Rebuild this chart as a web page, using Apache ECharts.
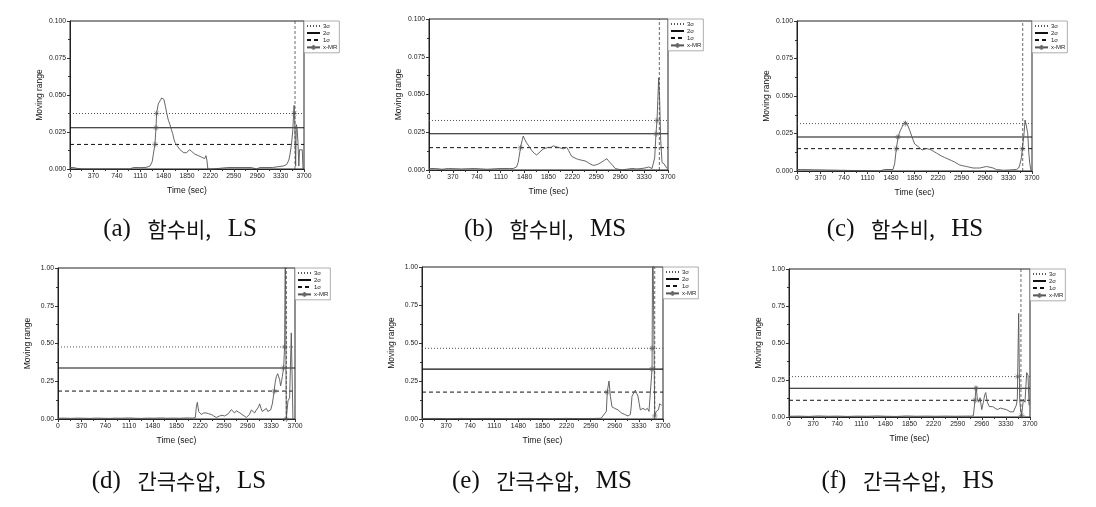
<!DOCTYPE html>
<html>
<head>
<meta charset="utf-8">
<script src="https://cdn.jsdelivr.net/npm/echarts@6/dist/echarts.min.js"></script>
<style>
html,body{margin:0;padding:0;background:#fff;}
#chart{width:1096px;height:507px;}
</style>
</head>
<body>
<div id="chart"></div>
<script>
// ---------------- DATA ----------------
const captionTags = ['(a)','(b)','(c)','(d)','(e)','(f)'];
const captionVars = ['함수비,','함수비,','함수비,','간극수압,','간극수압,','간극수압,'];
const captionCases = ['LS','MS','HS','LS','MS','HS'];
const seriesNames = ['3σ','2σ','1σ','x-MR'];
const xTickStep = 370;
const xMax = 3700;
const yMaxes = [0.1,0.1,0.1,1,1,1];
const yTickSteps = [0.025,0.025,0.025,0.25,0.25,0.25];
const yDecimals = [3,3,3,2,2,2];

const sigma3 = [0.0375,0.0328,0.0316,0.477,0.465,0.273];
const sigma2 = [0.0279,0.0240,0.0227,0.338,0.328,0.194];
const sigma1 = [0.0166,0.0148,0.0149,0.185,0.177,0.113];
const eventTimes = [3558,3566,3554,3565,3573,3561];

const xmrA = [[0,0.001],[60,0.001],[100,0.0005],[200,0],[400,0],[700,0],[950,0],[1000,0.001],[1100,0.001],[1200,0.001],[1265,0.002],[1300,0.005],[1318,0.010],[1344,0.017],[1360,0.028],[1370,0.038],[1396,0.044],[1423,0.046],[1450,0.048],[1465,0.049],[1486,0.047],[1510,0.042],[1528,0.038],[1555,0.033],[1581,0.030],[1600,0.027],[1623,0.024],[1645,0.020],[1660,0.018],[1690,0.016],[1713,0.015],[1740,0.013],[1765,0.012],[1800,0.011],[1845,0.011],[1870,0.012],[1887,0.013],[1920,0.012],[1950,0.011],[1975,0.010],[2003,0.010],[2030,0.009],[2056,0.009],[2080,0.008],[2108,0.008],[2130,0.007],[2150,0.009],[2165,0.006],[2180,0],[2250,0],[2500,0.001],[2870,0.001],[2950,0],[3000,0.001],[3200,0.001],[3370,0.002],[3426,0.003],[3460,0.006],[3479,0.010],[3500,0.016],[3521,0.025],[3535,0.036],[3543,0.043],[3552,0.036],[3560,0.020],[3568,0.002],[3578,0.030],[3590,0.028],[3605,0.018],[3618,0.002],[3630,0.013],[3673,0.013],[3684,0]];
const xmrB = [[0,0.001],[100,0.001],[200,0.0005],[300,0.001],[500,0.0007],[700,0.001],[900,0.0005],[1100,0.001],[1250,0.001],[1304,0.001],[1356,0.002],[1380,0.005],[1392,0.008],[1418,0.015],[1444,0.020],[1459,0.0225],[1485,0.020],[1510,0.018],[1527,0.017],[1560,0.015],[1589,0.013],[1630,0.011],[1667,0.010],[1690,0.011],[1718,0.012],[1745,0.013],[1770,0.014],[1810,0.0145],[1848,0.015],[1890,0.015],[1925,0.016],[1960,0.0155],[2003,0.015],[2040,0.0145],[2080,0.014],[2110,0.0145],[2132,0.015],[2160,0.013],[2184,0.011],[2210,0.009],[2236,0.008],[2280,0.0075],[2313,0.007],[2360,0.0065],[2417,0.006],[2460,0.005],[2494,0.004],[2546,0.003],[2590,0.0035],[2624,0.004],[2665,0.005],[2701,0.006],[2730,0.007],[2753,0.0075],[2780,0.006],[2805,0.005],[2845,0.003],[2883,0.001],[2986,0],[3060,0.0005],[3142,0.001],[3220,0.0007],[3297,0.001],[3360,0.0015],[3401,0.002],[3430,0.001],[3453,0.001],[3494,0.008],[3515,0.025],[3530,0.033],[3556,0.061],[3572,0.045],[3587,0.020],[3608,0.005],[3640,0.004],[3660,0.003],[3685,0.001]];
const xmrC = [[0,0.001],[50,0.001],[80,0],[1300,0],[1380,0.001],[1480,0.001],[1512,0.001],[1538,0.005],[1564,0.015],[1590,0.022],[1610,0.025],[1627,0.027],[1650,0.029],[1669,0.031],[1690,0.032],[1706,0.033],[1725,0.032],[1748,0.030],[1775,0.027],[1800,0.024],[1825,0.021],[1853,0.018],[1880,0.017],[1916,0.016],[1940,0.015],[1969,0.014],[2000,0.0145],[2037,0.015],[2080,0.0145],[2116,0.014],[2155,0.013],[2195,0.012],[2235,0.011],[2273,0.010],[2325,0.009],[2378,0.008],[2430,0.007],[2483,0.006],[2520,0.005],[2562,0.004],[2610,0.0035],[2667,0.003],[2720,0.0025],[2772,0.002],[2825,0.002],[2877,0.002],[2930,0.0025],[2982,0.003],[3040,0.0025],[3087,0.002],[3139,0.001],[3250,0.0005],[3350,0.0007],[3454,0.001],[3490,0.002],[3507,0.004],[3530,0.008],[3549,0.015],[3575,0.025],[3591,0.034],[3612,0.030],[3633,0.025],[3650,0.012],[3665,0.005],[3685,0]];
const xmrD = [[0,0.005],[100,0.006],[200,0.004],[300,0.006],[400,0.005],[500,0.004],[600,0.006],[700,0.005],[800,0.004],[900,0.006],[1000,0.005],[1100,0.007],[1200,0.005],[1300,0.004],[1400,0.006],[1500,0.005],[1600,0.007],[1700,0.005],[1800,0.006],[1900,0.005],[2000,0.007],[2100,0.006],[2144,0.01],[2160,0.08],[2175,0.11],[2196,0.05],[2237,0.03],[2275,0.04],[2315,0.04],[2350,0.035],[2393,0.03],[2430,0.02],[2471,0.01],[2500,0.015],[2523,0.02],[2560,0.025],[2600,0.02],[2627,0.03],[2660,0.035],[2705,0.062],[2730,0.05],[2758,0.04],[2785,0.055],[2810,0.05],[2840,0.04],[2862,0.03],[2890,0.025],[2914,0.02],[2940,0.01],[2966,0],[2990,0.03],[3018,0.06],[3045,0.05],[3070,0.04],[3090,0.055],[3106,0.06],[3130,0.08],[3148,0.10],[3170,0.07],[3190,0.05],[3220,0.06],[3252,0.07],[3275,0.05],[3294,0.04],[3320,0.06],[3346,0.10],[3360,0.14],[3372,0.18],[3390,0.24],[3408,0.28],[3430,0.30],[3445,0.31],[3460,0.26],[3476,0.22],[3490,0.25],[3502,0.28],[3523,0.34],[3538,0.48],[3549,1.25],[3556,0.6],[3564,0],[3590,0.12],[3616,0.14],[3630,0.14],[3642,0.57],[3657,0.57],[3668,0]];
const xmrE = [[0,0.003],[200,0.004],[400,0.002],[600,0.004],[800,0.003],[1000,0.004],[1200,0.003],[1400,0.002],[1600,0.004],[1800,0.003],[2000,0.002],[2200,0.004],[2400,0.003],[2600,0.003],[2750,0.005],[2779,0.01],[2830,0.05],[2845,0.18],[2871,0.25],[2892,0.15],[2917,0.08],[2958,0.07],[3009,0.06],[3035,0.05],[3060,0.04],[3085,0.035],[3112,0.03],[3140,0.025],[3163,0.02],[3185,0.025],[3199,0.03],[3212,0.08],[3224,0.15],[3250,0.16],[3275,0.19],[3291,0.20],[3305,0.18],[3316,0.15],[3335,0.10],[3352,0.06],[3372,0.06],[3393,0.07],[3412,0.065],[3429,0.06],[3445,0.065],[3460,0.07],[3485,0.05],[3511,0.04],[3532,0.33],[3542,1.3],[3552,1.3],[3573,0.02],[3598,0.05],[3629,0.06],[3650,0.10],[3680,0.09]];
const xmrF = [[0,0.005],[150,0.006],[300,0.004],[450,0.007],[600,0.005],[750,0.006],[900,0.004],[1050,0.006],[1200,0.005],[1350,0.007],[1500,0.005],[1650,0.004],[1800,0.007],[1950,0.005],[2100,0.006],[2250,0.005],[2400,0.006],[2550,0.005],[2700,0.006],[2800,0.006],[2831,0.01],[2857,0.12],[2872,0.205],[2892,0.12],[2913,0.10],[2933,0.13],[2959,0.05],[2984,0.10],[3005,0.15],[3020,0.165],[3045,0.10],[3076,0.07],[3100,0.075],[3127,0.07],[3163,0.06],[3180,0.05],[3199,0.05],[3229,0.05],[3245,0.06],[3265,0.06],[3290,0.055],[3316,0.06],[3340,0.05],[3367,0.04],[3395,0.035],[3419,0.03],[3445,0.035],[3470,0.04],[3490,0.08],[3505,0.12],[3526,0.70],[3541,0.12],[3555,0.05],[3572,0.01],[3598,0.12],[3623,0.10],[3649,0.30],[3670,0.28],[3685,0.08]];
const xmrAll = [xmrA,xmrB,xmrC,xmrD,xmrE,xmrF];

const crossA = [[1344,0.0166],[1360,0.0279],[1370,0.0375],[3545,0.0375]];
const crossB = [[1418,0.0148],[3520,0.0240],[3530,0.0328]];
const crossC = [[1564,0.0149],[1590,0.0227],[1706,0.0316],[3549,0.0149]];
const crossD = [[3380,0.185],[3523,0.338],[3538,0.477],[3564,0]];
const crossE = [[2843,0.177],[3530,0.328],[3533,0.465],[3573,0.02]];
const crossF = [[2860,0.113],[2870,0.194],[3510,0.273],[3572,0.01]];
const crossAll = [crossA,crossB,crossC,crossD,crossE,crossF];

// ---------------- LAYOUT ----------------
const gridBoxes = [
  {left:70, top:21, width:234, height:148},
  {left:429, top:19, width:239, height:151},
  {left:797, top:21, width:235, height:150},
  {left:58, top:268, width:237, height:151},
  {left:422, top:267, width:241, height:152},
  {left:789, top:269, width:241, height:148}
];
const captionPos = [[180,229],[545,229],[905,229],[179,481],[542,481],[908,481]];

const asterisk = 'path://M5,0L5,10M0,5L10,5M1.5,1.5L8.5,8.5M8.5,1.5L1.5,8.5';
const plus = 'path://M5,0L5,10M0,5L10,5';
const clear = 'rgba(0,0,0,0)';

const grids=[], xAxes=[], yAxes=[], series=[], legends=[], graphics=[];
gridBoxes.forEach((g,i)=>{
  grids.push({left:g.left, top:g.top, width:g.width, height:g.height, show:true, borderColor:'#222', borderWidth:1, backgroundColor:'#fff'});
  xAxes.push({
    type:'value', gridIndex:i, min:0, max:xMax, interval:xTickStep,
    axisLine:{show:true, onZero:false, lineStyle:{color:'#222', width:1}},
    axisTick:{show:true, length:3, lineStyle:{color:'#333'}},
    minorTick:{show:true, splitNumber:2, length:2, lineStyle:{color:'#333'}},
    splitLine:{show:false},
    axisLabel:{fontSize:6.8, color:'#222', margin:4, fontFamily:'Liberation Sans', formatter:(v)=>String(v)},
    name:'Time (sec)', nameLocation:'middle', nameGap:17,
    nameTextStyle:{fontSize:8.5, color:'#111', fontFamily:'Liberation Sans'}
  });
  yAxes.push({
    type:'value', gridIndex:i, min:0, max:yMaxes[i], interval:yTickSteps[i],
    axisLine:{show:true, onZero:false, lineStyle:{color:'#222', width:1}},
    axisTick:{show:true, length:3, lineStyle:{color:'#333'}},
    minorTick:{show:true, splitNumber:2, length:2, lineStyle:{color:'#333'}},
    splitLine:{show:false},
    axisLabel:{fontSize:6.8, color:'#222', margin:4, fontFamily:'Liberation Sans',
      formatter:(v)=>v.toFixed(yDecimals[i])},
    name:'Moving range', nameLocation:'middle', nameGap:26,
    nameTextStyle:{fontSize:8.5, color:'#111', fontFamily:'Liberation Sans'}
  });
  const base = {xAxisIndex:i, yAxisIndex:i, type:'line', showSymbol:false, silent:true, animation:false, clip:true};
  series.push(Object.assign({}, base, {name:'3σ', symbol:'none', color:'#555', itemStyle:{color:clear, borderWidth:0}, data:[[0,sigma3[i]],[xMax,sigma3[i]]], lineStyle:{type:[1,2], color:'#555', width:1}}));
  series.push(Object.assign({}, base, {name:'2σ', symbol:'none', color:'#111', itemStyle:{color:clear, borderWidth:0}, data:[[0,sigma2[i]],[xMax,sigma2[i]]], lineStyle:{type:'solid', color:'#111', width:1.1}}));
  series.push(Object.assign({}, base, {name:'1σ', symbol:'none', color:'#111', itemStyle:{color:clear, borderWidth:0}, data:[[0,sigma1[i]],[xMax,sigma1[i]]], lineStyle:{type:[4,3], color:'#111', width:1}}));
  series.push(Object.assign({}, base, {name:'x-MR', symbol:plus, symbolSize:4, color:'#555', data:xmrAll[i], lineStyle:{color:'#555', width:0.9}, itemStyle:{color:clear, borderColor:'#666', borderWidth:0.6}, z:3}));
  series.push(Object.assign({}, base, {name:'event'+i, symbol:'none', data:[[eventTimes[i],0],[eventTimes[i],yMaxes[i]]], lineStyle:{type:[3,2], color:'#444', width:0.8}}));
  series.push({type:'scatter', name:'cross'+i, xAxisIndex:i, yAxisIndex:i, silent:true, animation:false,
    symbol:asterisk, symbolSize:6, data:crossAll[i],
    itemStyle:{color:clear, borderColor:'#555', borderWidth:0.7}, z:4});
  legends.push({
    data:seriesNames, orient:'vertical', left:g.left+g.width, top:g.top,
    itemWidth:13, itemHeight:6, itemGap:1, padding:[2,2,2,2],
    borderColor:'#999', borderWidth:0.8, backgroundColor:'#fff', selectedMode:false,
    textStyle:{fontSize:6, color:'#222', fontFamily:'Liberation Sans', padding:[0,0,0,-2]}
  });
  graphics.push({type:'text', silent:true,
    style:{text:'{l|'+captionTags[i]+'}   {k|'+captionVars[i]+'}   {l|'+captionCases[i]+'}',
      x:captionPos[i][0], y:captionPos[i][1], textAlign:'center', textVerticalAlign:'middle',
      rich:{
        l:{fontSize:25, fill:'#111', fontFamily:"'Liberation Serif',serif"},
        k:{fontSize:21, fill:'#111', fontFamily:"'Noto Sans CJK KR'"}
      },
      fontSize:22, fill:'#111', fontFamily:"'Liberation Serif',serif"}});
});

const chart = echarts.init(document.getElementById('chart'), null, {renderer:'canvas'});
chart.setOption({
  backgroundColor:'#fff',
  animation:false,
  grid:grids, xAxis:xAxes, yAxis:yAxes, series:series, legend:legends,
  graphic:graphics
});
</script>
</body>
</html>
